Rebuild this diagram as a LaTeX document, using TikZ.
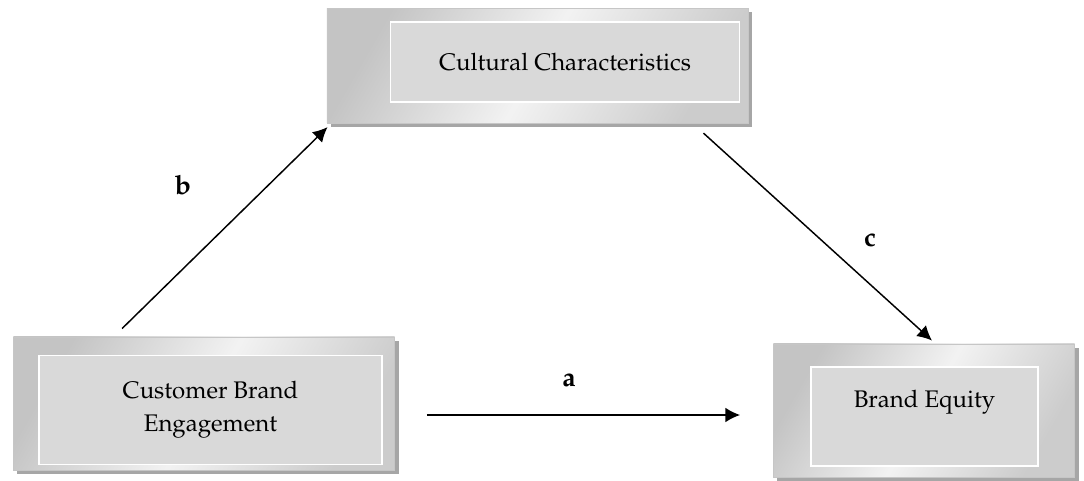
\documentclass[tikz,border=0pt]{standalone}
\usepackage[T1]{fontenc}
\usepackage{mathpazo}
\usetikzlibrary{arrows.meta,shadows}

\begin{document}
\begin{tikzpicture}[x=0.75pt,y=-0.75pt,
    outbox/.style={rectangle,draw=gray!45,thin,left color=gray!46,right color=gray!40,middle color=gray!10,shading angle=60,
        drop shadow={shadow xshift=3pt,shadow yshift=-3pt,fill=gray!70,opacity=1}},
    inbox/.style={rectangle,draw=white,line width=1.2pt,fill=gray!30,align=center,font=\fontsize{18}{25}\selectfont},
    path/.style={line width=1.1pt,-{Latex[length=11pt,width=11pt]}},
    lbl/.style={font=\fontsize{20}{24}\selectfont\bfseries}]
    \useasboundingbox (0,0) rectangle (1084,481);
    % outer frames
    \node[outbox,minimum width=316pt,minimum height=86pt] (cc) at (537.5,65.5) {};
    \node[outbox,minimum width=286pt,minimum height=100pt] (cbe) at (204,403.5) {};
    \node[outbox,minimum width=226pt,minimum height=100pt] (be) at (924,410.5) {};
    % inner boxes with text
    \node[inbox,minimum width=262pt,minimum height=60pt] (ccIn) at (565,62) {Cultural Characteristics};
    \node[inbox,minimum width=257pt,minimum height=82pt] (cbeIn) at (210.5,410) {Customer Brand\\Engagement};
    \node[inbox,minimum width=170pt,minimum height=74pt,text depth=26pt] (beIn) at (924.5,416.5) {Brand Equity};
    % paths
    \draw[path] ([shift={(109,-8)}]cbe.north west) -- ([shift={(1,4)}]cc.south west);
    \draw[path] ([shift={(-45,10)}]cc.south east) -- ([shift={(8,-3)}]be.north);
    \draw[path] ([shift={(32,11.5)}]cbe.east) -- ([shift={(-33,4.5)}]be.west);
    \node[lbl] (lb) at (183,185) {b};
    \node[lbl] (lc) at (870,240) {c};
    \node[lbl] (la) at (569,380) {a};
\end{tikzpicture}
\end{document}
